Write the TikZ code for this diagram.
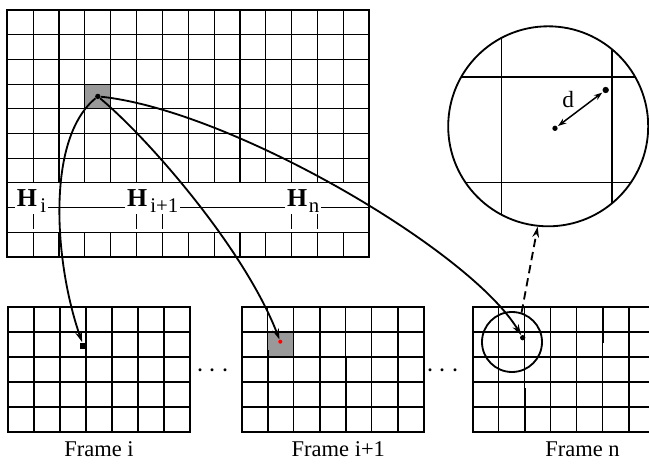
\documentclass[tikz,border=0pt]{standalone}
\usepackage{fontspec}
\setmainfont{Liberation Serif}
\usetikzlibrary{arrows.meta}

\begin{document}
\begin{tikzpicture}[
    x=0.6pt, y=-0.6pt,
    cellline/.style  = {line width=0.7pt},
    heavyline/.style = {line width=1.3pt},
    border/.style    = {line width=1.2pt},
    cellfill/.style  = {fill=black!40},
    link/.style      = {-{Stealth[length=6.5pt, width=4pt]}, line width=1.1pt},
    zoomlink/.style  = {link, dash pattern=on 5pt off 3pt},
    distarrow/.style = {{Stealth[length=5pt, width=3.5pt]}-{Stealth[length=5pt, width=3.5pt]},
                        line width=0.9pt, shorten <=0.5pt, shorten >=0.5pt},
    dot/.style       = {circle, fill=black, inner sep=0pt, minimum size=3.2pt},
    hlabel/.style    = {fill=white, inner sep=1pt, anchor=base west,
                        font=\fontsize{15.5}{15.5}\selectfont},
    caption/.style   = {anchor=base, font=\fontsize{13.5}{15}\selectfont},
    etc/.style       = {anchor=base, inner sep=0pt, font=\fontsize{17}{17}\selectfont}
]
\useasboundingbox (0,0) rectangle (649,465);

% ========= big grid =========
\fill[cellfill] ({7.3+3*25.86},{10+3*24.7}) rectangle ({7.3+4*25.86},{10+4*24.7});
\foreach \k in {0,...,10}
  \draw[cellline] (7.3,{10+24.7*\k}) -- (369.3,{10+24.7*\k});
\foreach \j in {1,...,13} {
  \draw[cellline] ({7.3+25.86*\j},10) -- ({7.3+25.86*\j},182.9);
  \draw[cellline] ({7.3+25.86*\j},232.3) -- ({7.3+25.86*\j},257);
}
\foreach \j in {1,5,6,11,12}
  \draw[cellline] ({7.3+25.86*\j},214) -- ({7.3+25.86*\j},229);
\draw[border] (7.3,10) rectangle (369.3,257);

\node[hlabel] (hi) at (15,206)
    {{\bfseries H}\hspace{2pt}\raisebox{-3.6pt}{\fontsize{12.5}{12.5}\selectfont i}};
\node[hlabel] (hj) at (125,206)
    {{\bfseries H}\hspace{2pt}\raisebox{-3.6pt}{\fontsize{12.5}{12.5}\selectfont i+1}};
\node[hlabel] (hn) at (285,206)
    {{\bfseries H}\hspace{1pt}\raisebox{-3.6pt}{\fontsize{12.5}{12.5}\selectfont n}};

\node[dot] (src) at (97.8,96.4) {};

% ========= frames =========
\fill[cellfill] (267.7,332) rectangle (293.7,357);
\foreach \fx in {8,241.7,472.7} {
  \foreach \k in {1,...,4}
    \draw[cellline] (\fx,{307+25*\k}) -- ({\fx+182},{307+25*\k});
  \foreach \j in {1,...,6}
    \draw[cellline] ({\fx+26*\j},307) -- ({\fx+26*\j},432);
}
\foreach \k in {1,...,4}
  \draw[heavyline] (8,{307+25*\k}) -- (190,{307+25*\k});
\foreach \sx/\sa/\sb in {60/307/373, 86/307/432, 112/307/432, 138/307/332, 164/412/432,
                         267.7/350/432, 319.7/307/432, 345.7/357/432, 397.7/307/432,
                         524.7/388/432, 602.7/307/343, 628.7/307/432}
  \draw[heavyline] (\sx,\sa) -- (\sx,\sb);
\foreach \fx in {8,241.7,472.7}
  \draw[border] (\fx,307) rectangle ({\fx+182},432);

\node[fill=black, inner sep=0pt, minimum size=3.6pt] (tgti) at (83.3,345.5) {};
\node[circle, fill=red, inner sep=0pt, minimum size=2.4pt] (tgtj) at (280.3,341.7) {};
\node[dot] (tgtn) at (522.7,337.7) {};
\node[circle, draw, line width=1.1pt, minimum size=36pt, inner sep=0pt] (lens) at (512,342) {};

\node[etc] (etc1) at (213,377) {$\cdots$};
\node[etc] (etc2) at (443,377) {$\cdots$};

\node[caption] (capi) at (99,456)    {Frame i};
\node[caption] (capj) at (338.3,456) {Frame i+1};
\node[caption] (capn) at (582.5,456) {Frame n};

% ========= magnified view =========
\begin{scope}
  \clip (548.2,126.3) circle[radius=100];
  \draw[heavyline] (440,76.7) -- (660,76.7);
  \draw[cellline]  (440,182.7) -- (660,182.7);
  \draw[cellline]  (501.7,20) -- (501.7,235);
  \draw[heavyline] (611.7,20) -- (611.7,235);
\end{scope}
\node[circle, draw, line width=1.1pt, minimum size=120pt, inner sep=0pt] (mag) at (548.2,126.3) {};

\node[dot] (pa) at (555,128.3) {};
\node[dot, minimum size=3.8pt] (pb) at (605.7,90) {};
\draw[distarrow] (pa) -- (pb);
\node[font=\fontsize{14}{14}\selectfont] (dlabel) at (568.3,100) {d};

% ========= links =========
\draw[link] (src) .. controls (45,140) and (55,265) .. (tgti);
\draw[link] (src) .. controls (150,140) and (245,250) .. (tgtj);
\draw[link] (src) .. controls (230,110) and (470,250) .. (tgtn);
\draw[zoomlink] (lens.72) -- (mag.264);

\end{tikzpicture}
\end{document}
